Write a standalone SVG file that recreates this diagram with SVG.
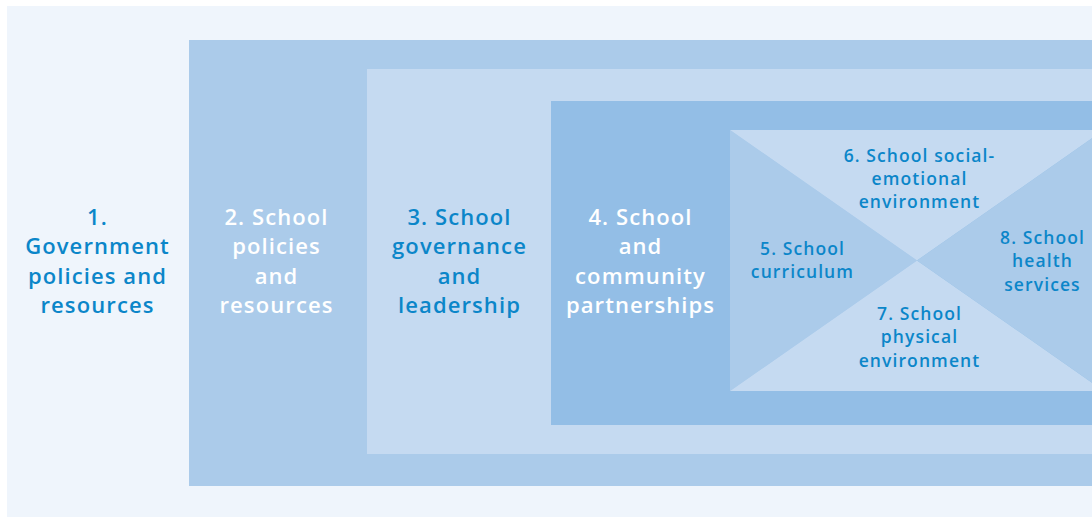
<svg xmlns="http://www.w3.org/2000/svg" width="1092" height="517" viewBox="0 0 1092 517">
<style>
.t{font-family:"Open Sans","Liberation Sans",sans-serif;font-weight:600;text-anchor:middle}
.big{font-size:22px;letter-spacing:1.1px}
.sm{font-size:17.5px;letter-spacing:1.1px}
.blue{fill:#0b86c9}
.white{fill:#ffffff}
</style>
<rect x="0" y="0" width="1092" height="517" fill="#ffffff"/>
<g id="node1">
<rect x="7" y="6" width="1085" height="511" fill="#eff5fc"/>
<text class="t big blue"><tspan x="97.5" y="225">1.</tspan><tspan x="97.5" y="254">Government</tspan><tspan x="97.5" y="283.5">policies and</tspan><tspan x="97.5" y="312.5">resources</tspan></text>
</g>
<g id="node2">
<rect x="189" y="40" width="903" height="446" fill="#abcbea"/>
<text class="t big white"><tspan x="276.5" y="225">2. School</tspan><tspan x="276.5" y="254">policies</tspan><tspan x="276.5" y="283.5">and</tspan><tspan x="276.5" y="312.5">resources</tspan></text>
</g>
<g id="node3">
<rect x="367" y="69" width="725" height="385" fill="#c5daf1"/>
<text class="t big blue"><tspan x="459.5" y="225">3. School</tspan><tspan x="459.5" y="254">governance</tspan><tspan x="459.5" y="283.5">and</tspan><tspan x="459.5" y="312.5">leadership</tspan></text>
</g>
<g id="node4">
<rect x="551" y="101" width="541" height="324" fill="#93bee6"/>
<text class="t big white"><tspan x="640.5" y="225">4. School</tspan><tspan x="640.5" y="254">and</tspan><tspan x="640.5" y="283.5">community</tspan><tspan x="640.5" y="312.5">partnerships</tspan></text>
</g>
<g id="node5">
<polygon points="730,130 917,260.5 730,391" fill="#abcbea"/>
<text class="t sm blue"><tspan x="802.5" y="255">5. School</tspan><tspan x="802.5" y="278">curriculum</tspan></text>
</g>
<g id="node6">
<polygon points="730,130 1104,130 917,260.5" fill="#c5daf1"/>
<text class="t sm blue"><tspan x="919.5" y="162">6. School social-</tspan><tspan x="919.5" y="185">emotional</tspan><tspan x="919.5" y="208">environment</tspan></text>
</g>
<g id="node7">
<polygon points="730,391 917,260.5 1104,391" fill="#c5daf1"/>
<text class="t sm blue"><tspan x="919.5" y="320">7. School</tspan><tspan x="919.5" y="343">physical</tspan><tspan x="919.5" y="367">environment</tspan></text>
</g>
<g id="node8">
<polygon points="1104,130 917,260.5 1104,391" fill="#abcbea"/>
<text class="t sm blue"><tspan x="1042.5" y="244">8. School</tspan><tspan x="1042.5" y="267">health</tspan><tspan x="1042.5" y="291">services</tspan></text>
</g>
<g id="connectors"></g>
</svg>
